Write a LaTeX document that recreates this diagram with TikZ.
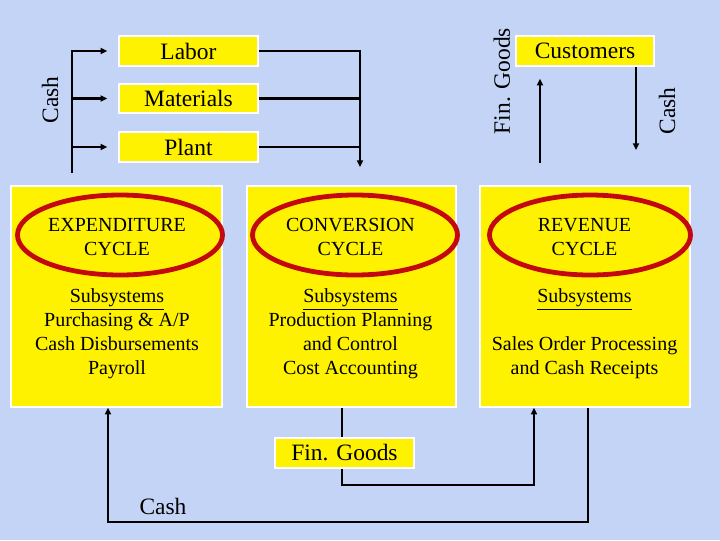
\documentclass[tikz,border=0pt]{standalone}
\usepackage{fontspec}
\setmainfont{Liberation Serif}
\usetikzlibrary{arrows.meta,shapes.geometric}
\definecolor{bgblue}{RGB}{196,212,246}
\definecolor{cyclered}{RGB}{196,8,16}
\tikzset{
  ybox/.style={draw=white,line width=1pt,fill=yellow,inner sep=0pt},
  biglabel/.style={font=\fontsize{17.6}{21}\selectfont,inner sep=0pt},
  smalltext/.style={font=\fontsize{15}{18}\selectfont,align=center,inner sep=0pt},
  cyc/.style={draw=cyclered,line width=3.6pt,ellipse,inner sep=0pt},
  flow/.style={line width=1.6pt,draw=black},
  arr/.style={flow,-{Triangle[length=5pt,width=4.5pt]}}
}
\begin{document}
\begin{tikzpicture}[x=0.75pt,y=-0.75pt]
\fill[bgblue] (0,0) rectangle (720,540);
\useasboundingbox (0,0) rectangle (720,540);

% top boxes
\node[ybox,biglabel,minimum width=139*0.75pt,minimum height=30*0.75pt] (labor) at (188.5,51) {Labor};
\node[ybox,biglabel,minimum width=139*0.75pt,minimum height=29*0.75pt] (materials) at (188.5,98.5) {Materials};
\node[ybox,biglabel,minimum width=139*0.75pt,minimum height=30*0.75pt] (plant) at (188.5,147) {Plant};
\node[ybox,biglabel,minimum width=138*0.75pt,minimum height=30*0.75pt] (customers) at (585,51) {Customers};

% cycle boxes
\node[ybox,minimum width=211*0.75pt,minimum height=221*0.75pt] (box1) at (116.5,296.5) {};
\node[ybox,minimum width=209*0.75pt,minimum height=221*0.75pt] (box2) at (351.5,296.5) {};
\node[ybox,minimum width=210*0.75pt,minimum height=221*0.75pt] (box3) at (585,296.5) {};

\node[cyc,minimum width=205*0.75pt,minimum height=80*0.75pt] (e1) at (120,235) {};
\node[cyc,minimum width=205*0.75pt,minimum height=80*0.75pt] (e2) at (355,235) {};
\node[cyc,minimum width=201*0.75pt,minimum height=80*0.75pt] (e3) at (590,235) {};

\node[smalltext] (t1) at (117,237) {EXPENDITURE\\CYCLE};
\node[smalltext] (t2) at (350.5,237) {CONVERSION\\CYCLE};
\node[smalltext] (t3) at (584.5,237) {REVENUE\\CYCLE};

\node[smalltext] (s1) at (117,334) {\underline{Subsystems}\\Purchasing \& A/P\\Cash Disbursements\\Payroll};
\node[smalltext] (s2) at (350.5,334) {\underline{Subsystems}\\Production Planning\\and Control\\Cost Accounting};
\node[smalltext] (s3) at (584.5,334) {\underline{Subsystems}\\[18pt]Sales Order Processing\\and Cash Receipts};

\node[ybox,biglabel,minimum width=139*0.75pt,minimum height=30*0.75pt] (fg) at (344.5,453) {Fin. Goods};

% labels
\node[biglabel,rotate=90] (lcash) at (50,100) {Cash};
\node[biglabel,rotate=90] (lfg) at (502,81) {Fin. Goods};
\node[biglabel,rotate=90] (rcash) at (667,111) {Cash};
\node[biglabel] (bcash) at (163,506) {Cash};

% coordinates
\coordinate (cb) at (72,173);
\coordinate (rt) at (360,167);
\coordinate (fgs) at (540,163);
\coordinate (cd) at (636,150);
\coordinate (fgc) at (534,485);
\coordinate (cashr) at (588,522);
\coordinate (cashl) at (108,522);

% left cash bus
\draw[arr,shorten >=8.25pt] (cb) |- (labor.west);
\draw[arr,shorten >=8.25pt] (cb |- materials.west) -- (materials.west);
\draw[arr,shorten >=8.25pt] (cb |- plant.west) -- (plant.west);

% right bus to conversion
\draw[arr] (labor.east) -| (rt);
\draw[flow] (materials.east) -- (materials.east -| rt);
\draw[flow] (plant.east) -- (plant.east -| rt);

% revenue side
\draw[arr,shorten >=9pt] (fgs) -- (fgs |- customers.south);
\draw[arr] (cd |- customers.south) -- (cd);

% bottom flows
\draw[flow] (box2.south -| 342,0) -- (fg.north -| 342,0);
\draw[arr] (fg.south -| 342,0) |- (fgc) -- (fgc |- box3.south);
\draw[arr] (cashr |- box3.south) -- (cashr) -- (cashl) -- (cashl |- box1.south);
\end{tikzpicture}
\end{document}
